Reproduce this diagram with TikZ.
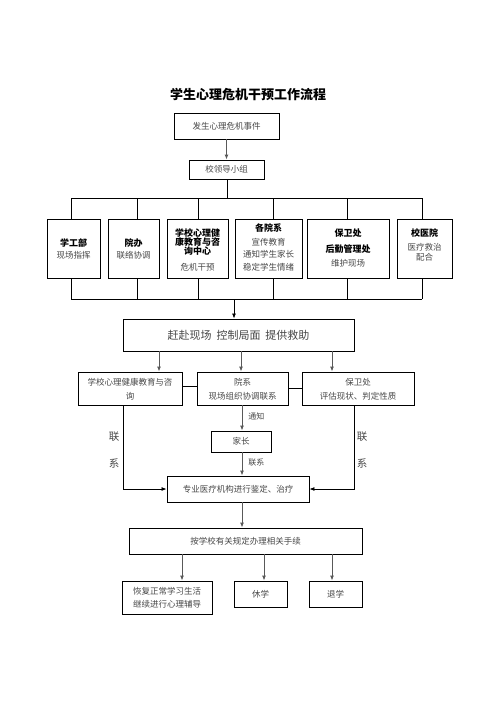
\documentclass[tikz,border=0pt]{standalone}
\usepackage{fontspec}
\setmainfont{Noto Sans CJK SC}
\usetikzlibrary{arrows.meta}
\begin{document}
\begin{tikzpicture}[x=1pt,y=-1pt,
 box/.style={draw, line width=0.9pt, inner sep=0pt, fill=white},
 t/.style={font=\fontsize{8.5}{10}\selectfont, text=black!72, inner sep=0pt},
 tb/.style={font=\fontsize{9}{10}\selectfont\bfseries, inner sep=0pt},
 lk/.style={font=\fontsize{10.5}{12}\selectfont, text=black!72, inner sep=0pt},
 ln/.style={line width=0.8pt},
 arr/.style={line width=0.9pt, draw=black!65, -{Latex[length=5pt,width=4pt]}},
 arrk/.style={line width=0.8pt, -{Latex[length=5pt,width=4pt]}},
]
\useasboundingbox (0,0) rectangle (496,702);
\node[font=\fontsize{13}{15}\selectfont\bfseries, inner sep=0pt] (title) at (248,95) {学生心理危机干预工作流程};

% top
\node[box, minimum width=105pt, minimum height=26pt] (b1) at (226.5,126) {};
\node[t] (b1t) at (b1) {发生心理危机事件};
\node[box, minimum width=75pt, minimum height=19pt] (b2) at (226.5,169.5) {};
\node[t] (b2t) at (b2) {校领导小组};
\draw[arr] (b1) -- (b2);

% first row boxes
\node[box, minimum width=53pt, minimum height=59pt] (r1) at (73.5,248.5) {};
\node[box, minimum width=51pt, minimum height=59pt] (r2) at (133.5,248.5) {};
\node[box, minimum width=61pt, minimum height=59pt] (r3) at (197.5,248.5) {};
\node[box, minimum width=67pt, minimum height=59pt] (r4) at (268.5,248.5) {};
\node[box, minimum width=82pt, minimum height=59pt] (r5) at (348,248.5) {};
\node[box, minimum width=55pt, minimum height=59pt] (r6) at (424.5,248.5) {};

\node[tb] (r1a) at (73.5,243) {学工部};
\node[t] (r1b) at (73.5,255) {现场指挥};
\node[tb] (r2a) at (133.5,243) {院办};
\node[t] (r2b) at (133.5,255) {联络协调};
\node[tb] (r3a) at (197.5,233.5) {学校心理健};
\node[tb] (r3b) at (197.5,242.5) {康教育与咨};
\node[tb] (r3c) at (197.5,251.5) {询中心};
\node[t] (r3d) at (197.5,267) {危机干预};
\node[tb] (r4a) at (268.5,228.5) {各院系};
\node[t] (r4b) at (268.5,242) {宣传教育};
\node[t] (r4c) at (268.5,254.5) {通知学生家长};
\node[t] (r4d) at (268.5,267) {稳定学生情绪};
\node[tb] (r5a) at (348,233) {保卫处};
\node[tb] (r5b) at (348,249) {后勤管理处};
\node[t] (r5c) at (348,263.5) {维护现场};
\node[tb] (r6a) at (424.5,233) {校医院};
\node[t] (r6b) at (424.5,247.5) {医疗救治};
\node[t] (r6c) at (424.5,257.5) {配合};

% bus 1
\coordinate (s1) at (71,198);
\coordinate (s2) at (137,198);
\coordinate (s3) at (198,198);
\coordinate (s4) at (273,198);
\coordinate (s5) at (347,198);
\coordinate (s6) at (422,198);
\draw[ln] (s1) -- (s6);
\draw[ln] (b2.south -| 227,0) -- (227,198);
\foreach \i in {1,...,6} {\draw[ln] (s\i) -- (s\i |- r\i.north);}

% bus 2
\coordinate (u1) at (71,299);
\coordinate (u2) at (137,299);
\coordinate (u3) at (198,299);
\coordinate (u4) at (273,299);
\coordinate (u5) at (347,299);
\coordinate (u6) at (422,299);
\coordinate (uc) at (234,299);
\draw[ln] (u1) -- (u6);
\foreach \i in {1,...,6} {\draw[ln] (r\i.south -| u\i) -- (u\i);}

% big box
\node[box, minimum width=231pt, minimum height=32pt] (big) at (238.5,335) {};
\node[font=\fontsize{11}{13}\selectfont, text=black!72, inner sep=0pt] (bigt) at (big) {赶赴现场\ \ 控制局面\ \ 提供救助};
\draw[arrk] (uc) -- (uc |- big.north);

% second row
\node[box, minimum width=104pt, minimum height=33pt] (A) at (130,388.5) {};
\node[box, minimum width=91pt, minimum height=33pt] (B) at (242.5,388.5) {};
\node[box, minimum width=112pt, minimum height=33pt] (C) at (358,388.5) {};
\node[t] (Aa) at (130,382) {学校心理健康教育与咨};
\node[t] (Ab) at (130,396) {询};
\node[t] (Ba) at (242.5,382) {院系};
\node[t] (Bb) at (242.5,396) {现场组织协调联系};
\node[t] (Ca) at (358,382) {保卫处};
\node[t] (Cb) at (358,396) {评估现状、判定性质};

\coordinate (xa) at (159,0);
\coordinate (xb) at (241,0);
\coordinate (xc) at (332,0);
\draw[arr] (big.south -| xa) -- (A.north -| xa);
\draw[arr] (big.south -| xb) -- (B.north -| xb);
\draw[arr] (big.south -| xc) -- (C.north -| xc);
\draw[ln] (A.east |- 0,386) -- (B.west |- 0,386);
\draw[ln] (B.east |- 0,388) -- (C.west |- 0,388);

% parents and medical
\node[box, minimum width=60pt, minimum height=21pt] (P) at (241,441.5) {};
\node[t] (Pt) at (P) {家长};
\node[box, minimum width=142pt, minimum height=26pt] (M) at (238,489) {};
\node[t] (Mt) at (M) {专业医疗机构进行鉴定、治疗};
\coordinate (xp) at (242,0);
\draw[arr] (B.south -| xp) -- (P.north -| xp) node[pos=0.45, right=6pt, t, font=\fontsize{8}{9}\selectfont] (tz) {通知};
\draw[arr] (P.south -| xp) -- (M.north -| xp) node[pos=0.45, right=6pt, t, font=\fontsize{8}{9}\selectfont] (lx) {联系};
\coordinate (xl) at (123,0);
\coordinate (xr) at (354,0);
\draw[arrk] (A.south -| xl) -- (xl |- M.west) -- (M.west);
\draw[arrk] (C.south -| xr) -- (xr |- M.east) -- (M.east);
\node[lk] (L1) at (114,437) {联};
\node[lk] (L2) at (114,463) {系};
\node[lk] (R1l) at (362,437) {联};
\node[lk] (R2l) at (362,463) {系};

% procedures
\node[box, minimum width=233pt, minimum height=26pt] (Q) at (245.5,541) {};
\node[t] (Qt) at (Q) {按学校有关规定办理相关手续};
\draw[arr] (M.south -| xp) -- (Q.north -| xp);

\node[box, minimum width=90pt, minimum height=33pt] (F1) at (167,597.5) {};
\node[t] (F1a) at (167,591) {恢复正常学习生活};
\node[t] (F1b) at (167,604) {继续进行心理辅导};
\node[box, minimum width=53pt, minimum height=26pt] (F2) at (260.5,594) {};
\node[t] (F2t) at (F2) {休学};
\node[box, minimum width=53pt, minimum height=26pt] (F3) at (335.5,594) {};
\node[t] (F3t) at (F3) {退学};
\coordinate (y1) at (182,0);
\coordinate (y2) at (264,0);
\coordinate (y3) at (332,0);
\draw[arr] (Q.south -| y1) -- (F1.north -| y1);
\draw[arr] (Q.south -| y2) -- (F2.north -| y2);
\draw[arr] (Q.south -| y3) -- (F3.north -| y3);
\end{tikzpicture}
\end{document}
